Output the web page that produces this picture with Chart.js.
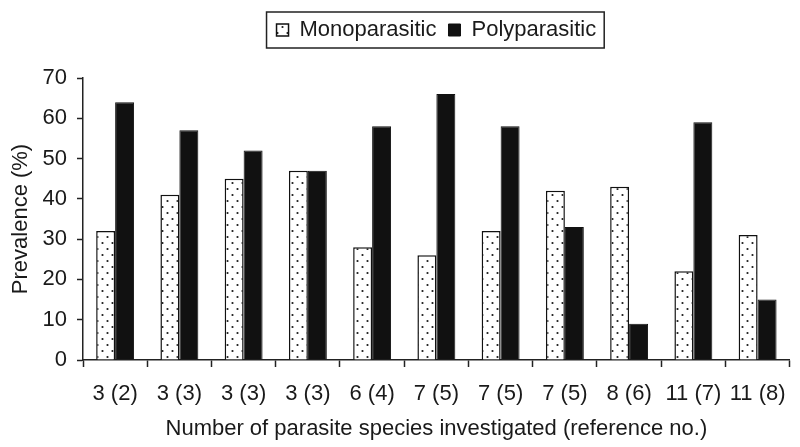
<!DOCTYPE html>
<html>
<head>
<meta charset="utf-8">
<script src="https://cdn.jsdelivr.net/npm/chart.js@4.4.1/dist/chart.umd.min.js"></script>
<style>
html,body{margin:0;padding:0;background:#fff;}
#wrap{width:800px;height:447px;}
</style>
</head>
<body>
<div id="wrap"><canvas id="c" width="800" height="447"></canvas></div>
<script>
const categories = ["3 (2)","3 (3)","3 (3)","3 (3)","6 (4)","7 (5)","7 (5)","7 (5)","8 (6)","11 (7)","11 (8)"];
const monoparasitic = [32,41,45,47,28,26,32,42,43,22,31];
const polyparasitic = [64,57,52,47,58,66,58,33,9,59,15];
const yTicks = [0,10,20,30,40,50,60,70];

const FONT = "'Liberation Sans', Arial, Helvetica, sans-serif";
const INK = '#1a1a1a';

function dotPattern(){
  const pc = document.createElement('canvas');
  pc.width = 10; pc.height = 12;
  const g = pc.getContext('2d');
  g.fillStyle = '#fff'; g.fillRect(0,0,10,12);
  g.fillStyle = '#1a1a1a';
  g.beginPath(); g.arc(2.5,3,1.1,0,Math.PI*2); g.fill();
  g.beginPath(); g.arc(7.5,9,1.1,0,Math.PI*2); g.fill();
  return document.getElementById('c').getContext('2d').createPattern(pc,'repeat');
}
const pat = dotPattern();

const layoutFix = {
  id:'layoutFix',
  beforeLayout(chart){
    const lg = chart.legend;
    if(lg && !lg._patched){
      const f = lg.fit;
      lg.fit = function(){ f.call(this); this.height = 71; };
      lg._patched = true;
    }
  },
  afterDraw(chart){
    const lg = chart.legend;
    if(!lg || !lg.legendHitBoxes || !lg.legendHitBoxes.length) return;
    const hb = lg.legendHitBoxes;
    let l = Infinity, r = -Infinity, t = Infinity, b = -Infinity;
    hb.forEach(h=>{ l=Math.min(l,h.left); r=Math.max(r,h.left+h.width); t=Math.min(t,h.top); b=Math.max(b,h.top+h.height); });
    const ctx = chart.ctx;
    ctx.save();
    ctx.strokeStyle = '#222'; ctx.lineWidth = 1.5;
    ctx.strokeRect(l-10, t-7, (r-l)+18, (b-t)+14);
    ctx.restore();
  }
};

new Chart(document.getElementById('c'), {
  type:'bar',
  data:{
    labels: categories,
    datasets:[
      {label:'Monoparasitic', data: monoparasitic, backgroundColor: pat, borderColor:'#111', borderWidth:1.5, categoryPercentage:0.59, barPercentage:1},
      {label:'Polyparasitic', data: polyparasitic, backgroundColor:'#111', borderColor:'#111', borderWidth:1, categoryPercentage:0.59, barPercentage:1}
    ]
  },
  options:{
    responsive:false,
    animation:false,
    devicePixelRatio:1,
    layout:{padding:{left:0,right:9,top:7,bottom:0}},
    plugins:{
      legend:{
        display:true, position:'top', fullSize:false,
        labels:{boxWidth:12, boxHeight:12, padding:12, color:INK, font:{family:FONT, size:22}}
      },
      tooltip:{enabled:false}
    },
    scales:{
      x:{
        offset:true,
        grid:{display:true, offset:true, drawOnChartArea:false, drawTicks:true, tickLength:7, tickWidth:1.5, color:'#222'},
        border:{display:true, color:'#222', width:1.5},
        ticks:{color:INK, font:{family:FONT, size:22}, padding:14, maxRotation:0, autoSkip:false},
        title:{display:true, text:'Number of parasite species investigated (reference no.)', color:INK, font:{family:FONT, size:22}, padding:{top:0,bottom:5}},
        afterFit(s){ s.height = 87; }
      },
      y:{
        min:0, max:70,
        afterBuildTicks(s){ s.ticks = yTicks.map(v=>({value:v})); },
        grid:{display:true, drawOnChartArea:false, drawTicks:true, tickLength:6, tickWidth:1.5, color:'#222'},
        border:{display:true, color:'#222', width:1.5},
        ticks:{color:INK, font:{family:FONT, size:22}, padding:10},
        title:{display:true, text:'Prevalence (%)', color:INK, font:{family:FONT, size:22}, padding:{top:8,bottom:0}},
        afterFit(s){ s.width = 83; }
      }
    }
  },
  plugins:[layoutFix]
});
</script>
</body>
</html>
